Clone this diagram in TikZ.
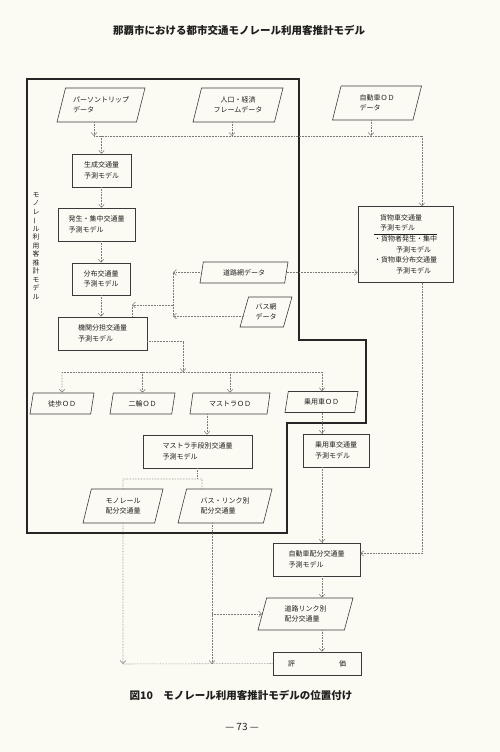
\documentclass[tikz,border=0pt]{standalone}
\usepackage{fontspec}
\setmainfont{Noto Sans CJK JP}
\usetikzlibrary{arrows.meta,shapes.geometric}

\begin{document}
\begin{tikzpicture}[x=1pt,y=-1pt, every node/.style={inner sep=0pt},
  modelbox/.style={draw=bc, fill=bg, line width=0.6pt, minimum width=#1, minimum height=33pt, align=left, font=\fontsize{7}{10.5}\selectfont, text=tc},
  modelbox/.default=60pt,
  databox/.style={draw=bc, fill=bg, line width=0.6pt, trapezium, trapezium left angle=63, trapezium right angle=117, trapezium stretches body, minimum width=#1, minimum height=34pt, align=left, font=\fontsize{7}{10.5}\selectfont, text=tc},
  databox/.default=80pt,
  flow/.style={draw=fc, line width=0.55pt, densely dotted},
  tip/.style={-{Straight Barb[length=3pt,width=5.5pt]}},
  bound/.style={draw=black!85, line width=1.5pt, line join=miter}]
\definecolor{bg}{HTML}{FCFBF3}\definecolor{bc}{HTML}{3A3A3A}
\definecolor{tc}{HTML}{1E1E1E}\definecolor{fc}{HTML}{7A7A7A}
\fill[bg] (0,0) rectangle (500,752);
\useasboundingbox (0,0) rectangle (500,752);
% title, caption, page number
\node[font=\fontsize{10.5}{12}\selectfont\bfseries, text=tc] (title) at (239,30) {那覇市における都市交通モノレール利用客推計モデル};
\node[font=\fontsize{10.5}{12}\selectfont\bfseries, text=tc] (caption) at (241,695) {図10\hspace{1em}モノレール利用客推計モデルの位置付け};
\node[font=\fontsize{10}{12}\selectfont, text=tc] (pageno) at (242,727) {— 73 —};
% monorail model boundary
\draw[bound] (27,79) -- (299,79) -- (299,340) -- (366,340) -- (366,423) -- (287,423) -- (287,533) -- (27,533) -- cycle;
\node[font=\fontsize{6.8}{8.5}\selectfont, text=tc, align=center] (vlabel) at (36,246) {モ\\ノ\\レ\\\rotatebox[origin=c]{90}{ー}\\ル\\利\\用\\客\\推\\計\\モ\\デ\\ル};
% input data
\node[databox=88pt] (ptrip) at (101,105) {パーソントリップ\\データ};
\node[databox=90pt, align=center] (jinko) at (238,105) {人口・経済\\フレームデータ};
\node[databox=89pt] (carod) at (377,103) {自動車ＯＤ\\データ};
\node[databox=88pt, minimum height=21pt] (douro) at (244,272.5) {道路網データ};
\node[databox=52pt, minimum height=30pt] (busnet) at (266,312) {バス網\\データ};
% four step models
\node[modelbox=59pt] (seisei) at (101.5,170.5) {生成交通量\\予測モデル};
\node[modelbox=77pt] (hassei) at (96.5,224.5) {発生・集中交通量\\予測モデル};
\node[modelbox=58pt, minimum height=32pt] (bunpu) at (101,279) {分布交通量\\予測モデル};
\node[modelbox=89pt] (kikan) at (102.5,333.5) {機関分担交通量\\予測モデル};
\node[modelbox=95pt, minimum height=76pt] (kamotsu) at (405.5,244.5) {\begin{tabular}{@{}l@{}}\hspace*{6pt}貨物車交通量\\ \hspace*{6pt}予測モデル\\ \hline ・貨物者発生・集中\\ \hspace*{22pt}予測モデル\\ ・貨物車分布交通量\\ \hspace*{22pt}予測モデル\end{tabular}};
% OD tables
\node[databox=64pt, minimum height=21pt] (tohood) at (62,403.5) {徒歩ＯＤ};
\node[databox=65pt, minimum height=21pt] (nirinod) at (142.5,403.5) {二輪ＯＤ};
\node[databox=80pt, minimum height=21pt] (masod) at (230,403.5) {マストラＯＤ};
\node[databox=73pt, minimum height=21pt] (joyood) at (321.5,402) {乗用車ＯＤ};
% assignment
\node[modelbox=109pt] (shudan) at (197.5,451.5) {マストラ手段別交通量\\予測モデル};
\node[modelbox=66pt] (joyo) at (336,450.5) {乗用車交通量\\予測モデル};
\node[databox=80pt] (mono) at (123,506) {モノレール\\配分交通量};
\node[databox=94pt] (buslink) at (225,506) {バス・リンク別\\配分交通量};
\node[modelbox=87pt] (carhaibun) at (316.5,559.5) {自動車配分交通量\\予測モデル};
\node[databox=95pt, minimum height=32pt] (roadlink) at (305.5,614) {道路リンク別\\配分交通量};
\node[modelbox=88pt, minimum height=23pt] (hyoka) at (317,663.5) {評\hspace{44pt}価};
% junction points
\coordinate (busA) at (94,136);
\coordinate (busB) at (422,136);
\coordinate (netx) at (173,305);
\coordinate (netk) at (132,305);
\coordinate (odL) at (62,372);
\coordinate (odM) at (183,372);
\coordinate (odR) at (322,372);
\coordinate (msx) at (207,420);
\coordinate (fkL) at (123,479);
\coordinate (fkR) at (202,479);
\coordinate (evL) at (123,664);
\coordinate (evM) at (212,664);
\coordinate (jx) at (322,500);
\coordinate (jinx) at (232,0);
\coordinate (carx) at (371,0);
% top data bus
\draw[flow, tip] (ptrip.south -| busA) -- (busA);
\draw[flow, tip] (jinko.south -| jinx) -- (busA -| jinx);
\draw[flow, tip] (carod.south -| carx) -- (busA -| carx);
\draw[flow] (busA) -- (busB);
\draw[flow, tip] (busB) -- (kamotsu.north -| busB);
\draw[flow, tip] (seisei.north |- busA) -- (seisei.north);
% four step chain
\draw[flow, tip] (seisei.south) -- (seisei.south |- hassei.north);
\draw[flow, tip] (bunpu.north |- hassei.south) -- (bunpu.north);
\draw[flow, tip] (bunpu.south) -- (bunpu.south |- kikan.north);
% network data
\draw[flow, tip] (douro.west) -- (douro.west -| netx);
\draw[flow, tip] ([yshift=-4pt]busnet.west) -- ([yshift=-4pt]busnet.west -| netx);
\draw[flow] (douro.west -| netx) -- ([yshift=-4pt]busnet.west -| netx);
\draw[flow, tip] (netx) -- (netk);
\draw[flow] (netk) -- (netk |- kikan.north);
\draw[flow, tip] (douro.east) -- (douro.east -| kamotsu.west);
% modal split to OD
\draw[flow, tip] ([yshift=-8pt]kikan.east) -| (odM);
\draw[flow] (odL) -- (odR);
\draw[flow, tip] (odL) -- (tohood.north);
\draw[flow, tip] (nirinod.north |- odL) -- (nirinod.north);
\draw[flow, tip] (masod.north |- odL) -- (masod.north);
\draw[flow, tip] (odR) -- (joyood.north -| odR);
% mass transit
\draw[flow, tip] (msx |- masod.south) -- (msx |- shudan.north);
\draw[flow] (shudan.south) -- (shudan.south |- fkL);
\draw[flow] (mono.north) -- (fkL) -- (fkR) -- (fkR |- buslink.north);
\draw[flow, tip] (mono.south) -- (evL);
\draw[flow] (evL) -- (hyoka.west);
\draw[flow, tip] (evM |- buslink.south) -- (evM);
\draw[flow, tip] (evM |- roadlink.west) -- (roadlink.west);
% car chain
\draw[flow, tip] (jx |- joyood.south) -- (jx |- joyo.north);
\draw[flow, tip] (jx |- joyo.south) -- (jx |- carhaibun.north);
\draw[flow, tip] (jx |- carhaibun.south) -- (jx |- roadlink.north);
\draw[flow, tip] (jx |- roadlink.south) -- (jx |- hyoka.north);
\draw[flow, tip] (busB |- kamotsu.south) |- ([yshift=6pt]carhaibun.east);
\end{tikzpicture}
\end{document}
